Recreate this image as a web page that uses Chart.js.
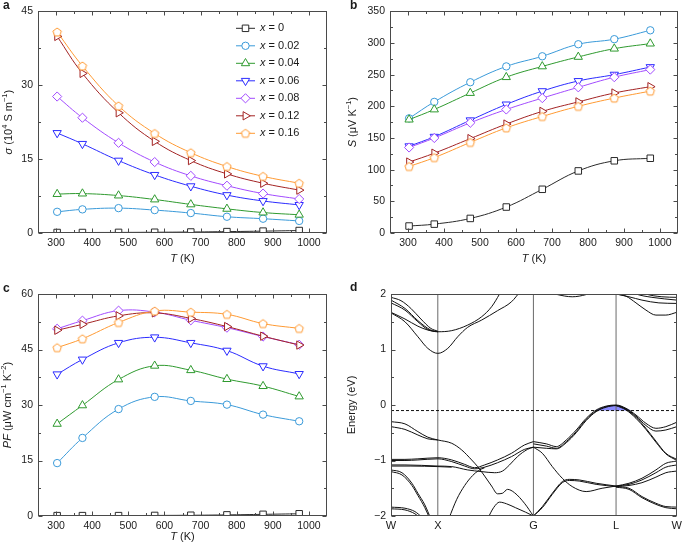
<!DOCTYPE html>
<html>
<head>
<meta charset="utf-8">
<script src="https://cdn.jsdelivr.net/npm/chart.js@4.4.0/dist/chart.umd.min.js"></script>
<style>
  body { margin: 0; background: #fff; width: 685px; height: 548px; position: relative; overflow: hidden; }
  canvas { position: absolute; }
</style>
</head>
<body>
<canvas id="sigmaChart" width="340" height="275" style="left:0;top:0"></canvas>
<canvas id="seebeckChart" width="345" height="275" style="left:340px;top:0"></canvas>
<canvas id="pfChart" width="340" height="273" style="left:0;top:275px"></canvas>
<canvas id="bandChart" width="345" height="273" style="left:340px;top:275px"></canvas>
<script>
// ---- data ----
const temps = [303, 373, 473, 573, 673, 773, 873, 973];
const xContent = ['0', '0.02', '0.04', '0.06', '0.08', '0.12', '0.16'];

// electrical conductivity, 10^4 S m^-1 (one row per x)
const sigma = [
  [0.1, 0.1, 0.12, 0.15, 0.2, 0.28, 0.38, 0.5],
  [4.3, 4.8, 5.05, 4.65, 4.05, 3.3, 2.9, 2.45],
  [7.9, 8.0, 7.6, 6.8, 5.8, 4.9, 4.15, 3.7],
  [20.3, 18.1, 14.7, 11.8, 9.5, 7.7, 6.5, 5.7],
  [27.7, 23.4, 18.3, 14.4, 11.6, 9.6, 8.0, 6.9],
  [39.9, 32.4, 24.4, 18.6, 14.7, 12.0, 10.1, 8.7],
  [40.8, 33.9, 25.8, 20.2, 16.3, 13.5, 11.5, 10.1]
];

// Seebeck coefficient, uV K^-1
const seebeck = [
  [11, 14, 23, 41, 69, 98, 114, 118],
  [181, 207, 238, 263, 279, 298, 306, 320],
  [179, 195, 221, 246, 263, 278, 291, 299],
  [137, 152, 178, 203, 224, 240, 250, 262],
  [135, 150, 174, 195, 213, 230, 246, 258],
  [112, 126, 149, 172, 192, 207, 221, 231],
  [105, 119, 143, 166, 184, 200, 213, 224]
];

// power factor, uW cm^-1 K^-2
const powerFactor = [
  [0.1, 0.1, 0.1, 0.15, 0.2, 0.3, 0.45, 0.6],
  [14.3, 21.1, 28.9, 32.2, 31.1, 30.1, 27.4, 25.6],
  [24.9, 29.9, 36.9, 40.6, 39.4, 37.0, 35.1, 32.3],
  [38.3, 42.3, 46.8, 48.3, 46.8, 44.7, 40.5, 38.4],
  [50.6, 52.8, 55.5, 55.1, 52.9, 50.9, 48.5, 46.3],
  [50.2, 51.8, 54.1, 54.9, 53.4, 51.2, 48.6, 46.2],
  [45.5, 47.9, 52.3, 55.4, 55.1, 54.5, 52.0, 50.7]
];

const tempTicks = [300, 400, 500, 600, 700, 800, 900, 1000];
const tempMinor = [350, 450, 550, 650, 750, 850, 950];

// band structure along W-X-G-L-W (k in path units, E in eV)
const kPoints = [0, 0.47, 1.43, 2.26, 2.87];
const kLabels = ['W', 'X', 'G', 'L', 'W'];
const fermiLevel = -0.1;
const bands = [
  // conduction
  [[0,1.66],[0.14,1.50],[0.27,1.23],[0.37,1.02],[0.47,0.93],[0.57,1.02],[0.67,1.23],[0.77,1.40],[0.91,1.53],[1.07,1.70],[1.21,1.86],[1.30,2.05]],
  [[0,1.84],[0.14,1.71],[0.27,1.50],[0.37,1.36],[0.47,1.32],[0.61,1.34],[0.77,1.44],[0.91,1.59],[1.01,1.77],[1.09,2.0],[1.12,2.1]],
  [[0,1.89],[0.14,1.74],[0.27,1.52],[0.40,1.35],[0.47,1.32]],
  [[0,1.94],[0.10,1.88],[0.20,1.74],[0.30,1.55],[0.40,1.38],[0.47,1.33]],
  [[0,1.67],[0.14,1.55],[0.27,1.42],[0.37,1.35],[0.47,1.32]],
  [[1.55,2.05],[1.67,1.99],[1.82,1.95],[1.96,1.99],[2.05,2.05]],
  [[2.12,2.05],[2.26,2.0],[2.36,1.96],[2.46,1.84],[2.56,1.71],[2.66,1.62],[2.76,1.62],[2.87,1.67]],
  [[2.16,2.03],[2.26,2.0],[2.39,1.95],[2.52,1.89],[2.69,1.84],[2.87,1.83]],
  [[2.40,2.05],[2.46,2.0],[2.62,1.94],[2.87,1.89]],
  [[2.50,2.05],[2.56,2.0],[2.72,1.95],[2.87,1.94]],
  // valence, W-X-G
  [[0,-0.30],[0.14,-0.34],[0.27,-0.48],[0.37,-0.58],[0.47,-0.63],[0.61,-0.69],[0.71,-0.81],[0.81,-0.99],[0.87,-1.11],[0.94,-1.28],[1.01,-1.46],[1.07,-1.60],[1.12,-1.59],[1.17,-1.52],[1.24,-1.58],[1.34,-1.77],[1.43,-2.0]],
  [[0,-0.39],[0.14,-0.44],[0.27,-0.54],[0.37,-0.61],[0.47,-0.63]],
  [[0,-0.98],[0.14,-0.98],[0.27,-0.97],[0.47,-0.95],[0.61,-0.99],[0.74,-1.07],[0.84,-1.13],[0.94,-1.08],[1.07,-0.99],[1.21,-0.87],[1.34,-0.72],[1.43,-0.66]],
  [[0,-1.00],[0.14,-1.00],[0.27,-0.99],[0.47,-0.97],[0.61,-1.02],[0.74,-1.10],[0.84,-1.15],[0.94,-1.12],[1.07,-1.04],[1.21,-0.93],[1.34,-0.80],[1.43,-0.76]],
  [[0,-1.08],[0.14,-1.08],[0.47,-1.10],[0.61,-1.11],[0.77,-1.17],[0.91,-1.20],[1.04,-1.22],[1.12,-1.19],[1.19,-1.08],[1.27,-0.93],[1.37,-0.80],[1.43,-0.76]],
  [[0,-1.10],[0.20,-1.10],[0.47,-1.11],[0.61,-1.12]],
  [[0.58,-2.05],[0.66,-1.70],[0.74,-1.45],[0.82,-1.27],[0.88,-1.18],[0.94,-1.13]],
  [[0,-1.17],[0.11,-1.22],[0.21,-1.41],[0.27,-1.59],[0.34,-1.80],[0.40,-2.05]],
  [[0,-1.20],[0.11,-1.26],[0.21,-1.45],[0.27,-1.63],[0.34,-1.85],[0.39,-2.05]],
  [[0,-1.84],[0.14,-1.86],[0.24,-1.92],[0.31,-2.02]],
  [[0,-1.87],[0.14,-1.89],[0.24,-1.96],[0.29,-2.03]],
  [[0.97,-2.05],[1.03,-1.85],[1.09,-1.75],[1.16,-1.78],[1.25,-1.85],[1.35,-1.93],[1.43,-2.0]],
  // valence, G-L-W
  [[1.43,-0.66],[1.56,-0.70],[1.66,-0.75],[1.76,-0.63],[1.86,-0.45],[1.96,-0.24],[2.06,-0.09],[2.16,-0.02],[2.26,0.0],[2.36,-0.06],[2.46,-0.18],[2.56,-0.33],[2.66,-0.42],[2.76,-0.39],[2.87,-0.31]],
  [[1.43,-0.76],[1.56,-0.78],[1.66,-0.79],[1.76,-0.68],[1.86,-0.50],[1.96,-0.28],[2.06,-0.12],[2.16,-0.04],[2.26,-0.01],[2.36,-0.07],[2.46,-0.20],[2.56,-0.37],[2.66,-0.47],[2.76,-0.45],[2.87,-0.39]],
  [[1.43,-0.70],[1.56,-0.74],[1.66,-0.78],[1.76,-0.66],[1.86,-0.48],[1.96,-0.26],[2.06,-0.11],[2.16,-0.03],[2.26,-0.01],[2.36,-0.08],[2.46,-0.22],[2.56,-0.42],[2.66,-0.65],[2.76,-0.87],[2.87,-0.98]],
  [[2.26,-0.01],[2.36,-0.09],[2.46,-0.24],[2.56,-0.44],[2.66,-0.67],[2.76,-0.88],[2.87,-1.00]],
  [[1.43,-0.76],[1.52,-0.87],[1.62,-1.11],[1.72,-1.32],[1.82,-1.47],[1.96,-1.56],[2.12,-1.50],[2.26,-1.46]],
  [[1.43,-2.0],[1.52,-1.83],[1.62,-1.59],[1.72,-1.38],[1.79,-1.34],[1.89,-1.35],[2.06,-1.41],[2.26,-1.46]],
  [[1.43,-2.0],[1.52,-1.85],[1.62,-1.61],[1.72,-1.40],[1.79,-1.36],[1.89,-1.37],[2.06,-1.43],[2.26,-1.47]],
  [[2.26,-1.46],[2.39,-1.41],[2.52,-1.32],[2.66,-1.17],[2.76,-1.05],[2.87,-1.01]],
  [[2.26,-1.46],[2.39,-1.43],[2.52,-1.35],[2.66,-1.22],[2.76,-1.12],[2.87,-1.08]],
  [[2.26,-1.47],[2.39,-1.45],[2.52,-1.40],[2.66,-1.30],[2.76,-1.22],[2.87,-1.19]],
  [[2.26,-1.47],[2.39,-1.50],[2.52,-1.65],[2.66,-1.77],[2.76,-1.83],[2.87,-1.84]],
  [[2.26,-1.48],[2.39,-1.52],[2.52,-1.67],[2.66,-1.79],[2.76,-1.85],[2.87,-1.87]]
];
// hole pocket above the Fermi level at L
const holePocket = [[2.05,-0.1],[2.10,-0.06],[2.16,-0.02],[2.26,0.0],[2.36,-0.06],[2.41,-0.1]];

// ---- styles ----
const FONT = '"Liberation Sans", Arial, Helvetica, sans-serif';
const ink = '#1a1a1a';
const frameInk = '#4a4a4a';
Chart.defaults.font.family = FONT;
Chart.defaults.font.size = 10.5;
Chart.defaults.color = ink;

const seriesColors = ['#2a2a2a', '#3a9ad9', '#2f9a2f', '#2b2bff', '#a24bff', '#a32323', '#ff9a33'];

// pentagon marker (no built-in style for it)
function pentagon(color, r) {
  const c = document.createElement('canvas');
  c.width = c.height = 2 * Math.ceil(r + 1);
  const g = c.getContext('2d');
  const m = c.width / 2;
  g.beginPath();
  for (let i = 0; i < 5; i++) {
    const a = -Math.PI / 2 + i * 2 * Math.PI / 5;
    g.lineTo(m + r * Math.cos(a), m + r * Math.sin(a) + 0.4);
  }
  g.closePath();
  g.fillStyle = '#fff';
  g.fill();
  g.strokeStyle = color;
  g.lineWidth = 1;
  g.stroke();
  return c;
}

const seriesShapes = ['rect', 'circle', 'triangle', 'triangle', 'rectRot', 'triangle', pentagon(seriesColors[6], 4.4)];
const seriesRot = [0, 0, 0, 180, 0, 90, 0];
const seriesRadius = [4.6, 3.7, 4.8, 4.8, 4.6, 4.8, 4.4];

function seriesSets(values) {
  return values.map((row, i) => ({
    label: 'x = ' + xContent[i],
    data: row.map((v, j) => ({ x: temps[j], y: v })),
    borderColor: seriesColors[i],
    borderWidth: 1,
    pointStyle: seriesShapes[i],
    rotation: seriesRot[i],
    pointRadius: seriesRadius[i],
    pointBorderColor: seriesColors[i],
    pointBackgroundColor: '#fff',
    pointBorderWidth: 1,
    tension: 0.4,
    order: 7 - i
  }));
}

// rich text (italics / superscripts)
function runFont(r, size) {
  return (r.i ? 'italic ' : '') + (r.sup ? size * 0.68 : size) + 'px ' + FONT;
}
function drawRich(ctx, runs, x, y, align, size) {
  ctx.textBaseline = 'middle';
  ctx.textAlign = 'left';
  let w = 0;
  runs.forEach(r => { ctx.font = runFont(r, size); w += ctx.measureText(r.t).width; });
  let cx = align === 'center' ? x - w / 2 : x;
  runs.forEach(r => {
    ctx.font = runFont(r, size);
    ctx.fillText(r.t, cx, y + (r.sup ? -size * 0.36 : 0));
    cx += ctx.measureText(r.t).width;
  });
}

const tTitle = [{ t: 'T', i: true }, { t: ' (K)' }];

// per panel decorations: inward ticks, frame, titles, letters
const decor = {
  sigmaChart: {
    letter: 'a', letterAt: [3, 6],
    xTicks: [tempTicks, tempMinor], yTicks: [[0, 15, 30, 45], [7.5, 22.5, 37.5]],
    xTitle: tTitle, xTitleY: 259,
    yTitle: [{ t: 'σ', i: true }, { t: ' (10' }, { t: '4', sup: true }, { t: ' S m' }, { t: '−1', sup: true }, { t: ')' }], yTitleX: 9,
    legend: { x: 236, y: 28.3, dy: 17.5 }
  },
  seebeckChart: {
    letter: 'b', letterAt: [10, 6],
    xTicks: [tempTicks, tempMinor], yTicks: [[0, 50, 100, 150, 200, 250, 300, 350], [25, 75, 125, 175, 225, 275, 325]],
    xTitle: tTitle, xTitleY: 259,
    yTitle: [{ t: 'S', i: true }, { t: ' (μV K' }, { t: '−1', sup: true }, { t: ')' }], yTitleX: 13
  },
  pfChart: {
    letter: 'c', letterAt: [3, 14],
    xTicks: [tempTicks, tempMinor], yTicks: [[0, 15, 30, 45, 60], [7.5, 22.5, 37.5, 52.5]],
    xTitle: tTitle, xTitleY: 262,
    yTitle: [{ t: 'PF', i: true }, { t: ' (μW cm' }, { t: '−1', sup: true }, { t: ' K' }, { t: '−2', sup: true }, { t: ')' }], yTitleX: 8
  },
  bandChart: {
    letter: 'd', letterAt: [10, 13],
    xTicks: [[], []], yTicks: [[-2, -1, 0, 1, 2], [-1.5, -0.5, 0.5, 1.5]],
    yTitle: [{ t: 'Energy (eV)' }], yTitleX: 12
  }
};

const decorPlugin = {
  id: 'decor',
  afterDraw(chart) {
    const d = decor[chart.canvas.id];
    const { ctx, chartArea: a, scales } = chart;
    ctx.save();
    ctx.strokeStyle = frameInk;
    ctx.lineWidth = 1;
    const L = Math.round(a.left) + 0.5, R = Math.round(a.right) - 0.5;
    const T = Math.round(a.top) + 0.5, B = Math.round(a.bottom) - 0.5;
    ctx.strokeRect(L, T, R - L, B - T);
    const seg = (x1, y1, x2, y2) => { ctx.beginPath(); ctx.moveTo(x1, y1); ctx.lineTo(x2, y2); ctx.stroke(); };
    d.xTicks.forEach((list, m) => list.forEach(v => {
      const p = Math.round(scales.x.getPixelForValue(v)) + 0.5;
      const len = m ? 2.5 : 4;
      seg(p, B, p, B - len); seg(p, T, p, T + len);
    }));
    d.yTicks.forEach((list, m) => list.forEach(v => {
      const p = Math.round(scales.y.getPixelForValue(v)) + 0.5;
      const len = m ? 2.5 : 4;
      seg(L, p, L + len, p); seg(R, p, R - len, p);
    }));

    ctx.fillStyle = ink;
    if (d.xTitle) drawRich(ctx, d.xTitle, (a.left + a.right) / 2, d.xTitleY, 'center', 11);
    ctx.save();
    ctx.translate(d.yTitleX, (a.top + a.bottom) / 2);
    ctx.rotate(-Math.PI / 2);
    drawRich(ctx, d.yTitle, 0, 0, 'center', 11);
    ctx.restore();

    ctx.font = 'bold 12px ' + FONT;
    ctx.textAlign = 'left';
    ctx.textBaseline = 'middle';
    ctx.fillText(d.letter, d.letterAt[0], d.letterAt[1]);

    if (d.legend) {
      chart.data.datasets.forEach((ds, i) => {
        const y = d.legend.y + i * d.legend.dy;
        ctx.strokeStyle = ds.borderColor;
        ctx.lineWidth = 1;
        seg(d.legend.x, y, d.legend.x + 19, y);
        ctx.fillStyle = '#fff';
        Chart.helpers.drawPoint(ctx, { pointStyle: ds.pointStyle, rotation: ds.rotation, radius: ds.pointRadius, borderWidth: 1 }, d.legend.x + 9.5, y);
        ctx.fillStyle = ink;
        drawRich(ctx, [{ t: 'x', i: true }, { t: ' = ' + xContent[i] }], d.legend.x + 24, y, 'left', 11);
      });
    }
    ctx.restore();
  }
};

function tempScale(h) {
  return {
    type: 'linear', min: 250, max: 1050,
    grid: { display: false, drawTicks: false }, border: { display: false },
    afterBuildTicks: s => { s.ticks = tempTicks.map(v => ({ value: v })); },
    ticks: { callback: v => String(v), padding: 4, autoSkip: false, maxRotation: 0 },
    afterFit: s => { s.height = h; }
  };
}
function valueScale(min, max, step, w) {
  return {
    type: 'linear', min: min, max: max,
    grid: { display: false, drawTicks: false }, border: { display: false },
    ticks: { stepSize: step, padding: 5, callback: v => (v < 0 ? '\u2212' + Math.abs(v) : String(v)) },
    afterFit: s => { s.width = w; }
  };
}
function baseOptions(padding, scales) {
  return {
    responsive: false, animation: false, devicePixelRatio: 1,
    layout: { padding: padding },
    plugins: { legend: { display: false }, tooltip: { enabled: false } },
    scales: scales
  };
}

new Chart(document.getElementById('sigmaChart'), {
  type: 'line',
  data: { datasets: seriesSets(sigma) },
  options: baseOptions({ top: 10, right: 13, left: 0, bottom: 0 }, { x: tempScale(42), y: valueScale(0, 45, 15, 38) }),
  plugins: [decorPlugin]
});

new Chart(document.getElementById('seebeckChart'), {
  type: 'line',
  data: { datasets: seriesSets(seebeck) },
  options: baseOptions({ top: 10, right: 7, left: 0, bottom: 0 }, { x: tempScale(42), y: valueScale(0, 350, 50, 50) }),
  plugins: [decorPlugin]
});

new Chart(document.getElementById('pfChart'), {
  type: 'line',
  data: { datasets: seriesSets(powerFactor) },
  options: baseOptions({ top: 19, right: 13, left: 0, bottom: 0 }, { x: tempScale(32), y: valueScale(0, 60, 15, 38) }),
  plugins: [decorPlugin]
});

// band structure
const bandSets = bands.map(b => ({
  data: b.map(([k, e]) => ({ x: k, y: e })),
  borderColor: '#111', borderWidth: 1, pointRadius: 0,
  cubicInterpolationMode: 'monotone', order: 2
}));
const symmetryLines = kPoints.slice(1, 4).map(k => ({
  data: [{ x: k, y: -2 }, { x: k, y: 2 }],
  borderColor: '#6a6a6a', borderWidth: 1, pointRadius: 0, order: 3
}));
const fermiSet = {
  data: [{ x: kPoints[0], y: fermiLevel }, { x: kPoints[4], y: fermiLevel }],
  borderColor: '#111', borderWidth: 1, borderDash: [3, 2], pointRadius: 0, order: 1
};
const pocketSet = {
  data: holePocket.map(([k, e]) => ({ x: k, y: e })),
  borderColor: 'rgba(0,0,0,0)', borderWidth: 0, pointRadius: 0,
  backgroundColor: 'rgba(110,110,255,0.8)', fill: { value: fermiLevel },
  cubicInterpolationMode: 'monotone', order: 4
};

new Chart(document.getElementById('bandChart'), {
  type: 'line',
  data: { datasets: [pocketSet, ...symmetryLines, ...bandSets, fermiSet] },
  options: baseOptions({ top: 19, right: 7, left: 0, bottom: 0 }, {
    x: {
      type: 'linear', min: kPoints[0], max: kPoints[4],
      grid: { display: false, drawTicks: false }, border: { display: false },
      afterBuildTicks: s => { s.ticks = kPoints.map(v => ({ value: v })); },
      ticks: { callback: (v, i) => kLabels[i], padding: 3, autoSkip: false, maxRotation: 0, font: { size: 11 } },
      afterFit: s => { s.height = 32; }
    },
    y: valueScale(-2, 2, 1, 51)
  }),
  plugins: [decorPlugin, Chart.registry.getPlugin('filler')].filter(Boolean)
});
</script>
</body>
</html>
